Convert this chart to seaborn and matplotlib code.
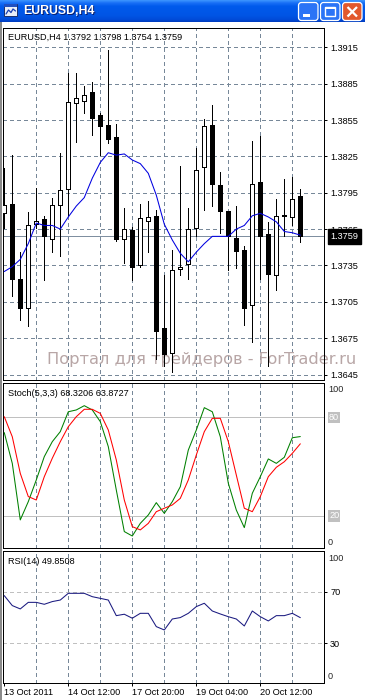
import numpy as np
import pandas as pd
import matplotlib
matplotlib.use("Agg")
import matplotlib.pyplot as plt
import seaborn as sns
from matplotlib.patches import FancyBboxPatch, Rectangle
from matplotlib.transforms import blended_transform_factory

# ---------------- data ----------------
open_ = [1.3778, 1.3786, 1.3724, 1.3700, 1.3769, 1.3773, 1.3757, 1.3785, 1.3798, 1.3869,
         1.3871, 1.3878, 1.3859, 1.3851, 1.3841, 1.3757, 1.3764, 1.3735, 1.3772, 1.3776,
         1.3683, 1.3663, 1.3732, 1.3736, 1.3766, 1.3816, 1.3851, 1.3801, 1.3780, 1.3758,
         1.3748, 1.3702, 1.3804, 1.3761, 1.3727, 1.3777, 1.3775, 1.3792]
high = [1.3815, 1.3826, 1.3746, 1.3779, 1.3799, 1.3776, 1.3791, 1.3828, 1.3894, 1.3894,
        1.3883, 1.3886, 1.3861, 1.3913, 1.3852, 1.3782, 1.3767, 1.3786, 1.3788, 1.3781,
        1.3727, 1.3748, 1.3817, 1.3782, 1.3832, 1.3856, 1.3867, 1.3812, 1.3780, 1.3784,
        1.3751, 1.3838, 1.3842, 1.3771, 1.3790, 1.3806, 1.3808, 1.3798]
low = [1.3766, 1.3710, 1.3690, 1.3685, 1.3766, 1.3723, 1.3746, 1.3743, 1.3776, 1.3837,
       1.3861, 1.3843, 1.3826, 1.3836, 1.3755, 1.3737, 1.3723, 1.3734, 1.3746, 1.3658,
       1.3652, 1.3647, 1.3727, 1.3724, 1.3759, 1.3781, 1.3784, 1.3762, 1.3731, 1.3733,
       1.3686, 1.3672, 1.3724, 1.3652, 1.3715, 1.3759, 1.3768, 1.3754]
close = [1.3785, 1.3724, 1.3700, 1.3768, 1.3772, 1.3759, 1.3785, 1.3797, 1.3870, 1.3873,
         1.3876, 1.3857, 1.3850, 1.3839, 1.3757, 1.3765, 1.3734, 1.3774, 1.3775, 1.3681,
         1.3662, 1.3731, 1.3734, 1.3765, 1.3814, 1.3850, 1.3802, 1.3780, 1.3759, 1.3747,
         1.3700, 1.3802, 1.3759, 1.3728, 1.3776, 1.3776, 1.3790, 1.3759]
ma = [1.3730, 1.3734, 1.3740, 1.3753, 1.3770, 1.3768, 1.3768, 1.3765, 1.3775, 1.3784,
      1.3791, 1.3807, 1.3820, 1.3828, 1.3826, 1.3827, 1.3822, 1.3819, 1.3811, 1.3793,
      1.3769, 1.3756, 1.3745, 1.3738, 1.3746, 1.3753, 1.3759, 1.3759, 1.3759, 1.3765,
      1.3768, 1.3776, 1.3778, 1.3775, 1.3771, 1.3763, 1.3762, 1.3760]
stoch_main = [70.7, 52.0, 17.6, 28.7, 41.9, 56.1, 65.2, 71.3, 83.4, 84.5,
              87.1, 84.5, 77.4, 62.2, 35.8, 10.5, 7.8, 15.5, 20.6, 28.1,
              21.6, 28.7, 37.8, 60.1, 72.3, 85.9, 83.4, 68.2, 39.9, 23.6,
              12.9, 33.8, 43.9, 54.7, 52.0, 55.7, 67.6, 68.3]
stoch_signal = [80.4, 68.2, 45.9, 31.8, 29.7, 43.9, 55.1, 65.2, 74.3, 80.4,
                84.9, 84.9, 82.4, 72.3, 54.1, 29.7, 13.5, 11.5, 15.5, 22.6,
                24.7, 26.7, 30.7, 41.9, 57.1, 71.3, 79.4, 79.4, 65.2, 44.9,
                24.7, 22.6, 31.8, 43.9, 49.6, 53.0, 58.1, 63.9]
rsi = [66.9, 59.2, 56.6, 61.7, 61.7, 60.2, 62.3, 63.5, 68.7, 68.7,
       68.7, 66.1, 64.8, 63.5, 51.4, 52.5, 49.4, 53.2, 53.2, 42.9,
       40.3, 48.8, 49.9, 53.2, 58.4, 61.0, 55.0, 52.7, 50.6, 48.8,
       43.4, 55.0, 50.6, 47.3, 51.4, 51.4, 53.2, 49.85]
date_ticks = [0, 8, 16, 24, 32]
date_labels = ["13 Oct 2011", "14 Oct 12:00", "17 Oct 20:00", "19 Oct 04:00", "20 Oct 12:00"]
grid_x = [4, 8, 12, 16, 20, 24, 28, 32, 36]
price_ticks = [1.3915, 1.3885, 1.3855, 1.3825, 1.3795, 1.3765, 1.3735, 1.3705, 1.3675, 1.3645]
stoch_levels = [80, 20]
rsi_levels = [70, 30]
symbol = "EURUSD,H4"
watermark = "Портал для трейдеров - ForTrader.ru"

# ---------------- style ----------------
sns.set_style("white")
plt.rcParams['font.family'] = ['Liberation Sans', 'DejaVu Sans']
FS = 6.6
GRID = '#778899'
LW = 0.72

W, H = 365, 700
fig = plt.figure(figsize=(W / 100, H / 100), dpi=100)
fig.patch.set_facecolor('white')


def rect(x0, y0, x1, y1):
    return [x0 / W, 1 - y1 / H, (x1 - x0) / W, (y1 - y0) / H]


ax_main = fig.add_axes(rect(3, 28, 324, 380))
ax_st = fig.add_axes(rect(3, 383, 324, 548))
ax_rsi = fig.add_axes(rect(3, 551, 324, 683))

n = len(close)
idx = np.arange(n)
df = pd.DataFrame(dict(idx=idx, open=open_, high=high, low=low, close=close, ma=ma,
                       k=stoch_main, d=stoch_signal, rsi=rsi))
XL = (-0.16, 39.96)

for ax in (ax_main, ax_st, ax_rsi):
    ax.set_xlim(*XL)
    for s in ax.spines.values():
        s.set_color('black')
        s.set_linewidth(LW)
        s.set_visible(True)
    for gx in grid_x:
        ax.axvline(gx, color=GRID, lw=LW, ls=(0, (4, 3)), zorder=1, antialiased=False)
    ax.set_xlabel('')
    ax.set_ylabel('')

# ---------------- main chart ----------------
ax_main.set_ylim(1.36405, 1.39309)
for p in price_ticks:
    ax_main.axhline(p, color=GRID, lw=LW, ls=(0, (4, 3)), zorder=1, antialiased=False)
ax_main.axhline(close[-1], color='#7f8fa0', lw=LW, zorder=1.5, antialiased=False)

ax_main.text((47 - 3) / 321, (380 - 360) / 352, watermark, transform=ax_main.transAxes,
             fontsize=11.7, color='#b8a6a6', family=['DejaVu Sans'], va='center', ha='left',
             zorder=1.2, clip_on=False)

bull = df.close >= df.open
ax_main.vlines(df.idx, df.low, df.high, color='black', lw=LW, zorder=3, antialiased=False)
ax_main.bar(df.idx[bull], (df.close - df.open)[bull], bottom=df.open[bull], width=0.52,
            facecolor='white', edgecolor='black', linewidth=LW, zorder=4, antialiased=False)
ax_main.bar(df.idx[~bull], (df.open - df.close)[~bull], bottom=df.close[~bull], width=0.52,
            facecolor='black', edgecolor='black', linewidth=LW, zorder=4, antialiased=False)
sns.lineplot(data=df, x='idx', y='ma', ax=ax_main, color='#0000e0', linewidth=0.75,
             legend=False, zorder=5)
ax_main.set_xlabel(''); ax_main.set_ylabel('')
ax_main.set_xticks([])
ax_main.set_yticks(price_ticks)
ax_main.set_yticklabels([f"{p:.4f}" for p in price_ticks])
ax_main.tick_params(axis='y', left=False, right=True, labelleft=False, labelright=True,
                    direction='out', length=2.2, width=LW, pad=2.2, labelsize=FS, colors='black')
tb = blended_transform_factory(ax_main.transAxes, ax_main.transData)
ax_main.text(1 + 6.5 / 321, close[-1], f"{close[-1]:.4f}", transform=tb, color='white',
             fontsize=FS, va='center', ha='left', zorder=10, clip_on=False,
             bbox=dict(boxstyle='square,pad=0.3', fc='black', ec='black'))

# ---------------- stochastic ----------------
ax_st.set_ylim(0.5, 100.9)
for lv in stoch_levels:
    ax_st.axhline(lv, color='#c0c0c0', lw=LW, zorder=1.5, antialiased=False)
sns.lineplot(data=df, x='idx', y='d', ax=ax_st, color='#ff0000', linewidth=0.75,
             legend=False, zorder=4)
sns.lineplot(data=df, x='idx', y='k', ax=ax_st, color='#008000', linewidth=0.75,
             legend=False, zorder=3)
ax_st.set_xlabel(''); ax_st.set_ylabel('')
ax_st.set_xticks([]); ax_st.set_yticks([])
ts = blended_transform_factory(ax_st.transAxes, ax_st.transData)
ax_st.text(1 + 4 / 321, 0.958, "100", transform=ax_st.transAxes, fontsize=FS, va='center',
           ha='left', clip_on=False)
ax_st.text(1 + 4 / 321, 0.036, "0", transform=ax_st.transAxes, fontsize=FS, va='center',
           ha='left', clip_on=False)
for lv in stoch_levels:
    ax_st.text(1 + 5 / 321, lv, str(lv), transform=ts, fontsize=FS, va='center', ha='left',
               color='white', clip_on=False,
               bbox=dict(boxstyle='square,pad=0.12', fc='#c0c0c0', ec='none'))

# ---------------- RSI ----------------
ax_rsi.set_ylim(-0.8, 101.5)
for lv in rsi_levels:
    ax_rsi.axhline(lv, color='#c0c0c0', lw=LW, ls=(0, (4, 3)), zorder=1.5, antialiased=False)
sns.lineplot(data=df, x='idx', y='rsi', ax=ax_rsi, color='#1a1a80', linewidth=0.75,
             legend=False, zorder=3)
ax_rsi.set_xlabel(''); ax_rsi.set_ylabel('')
ax_rsi.set_yticks(rsi_levels)
ax_rsi.set_yticklabels([str(v) for v in rsi_levels])
ax_rsi.tick_params(axis='y', left=False, right=True, labelleft=False, labelright=True,
                   direction='out', length=2.2, width=LW, pad=2.2, labelsize=FS, colors='black')
ax_rsi.text(1 + 4 / 321, 0.94, "100", transform=ax_rsi.transAxes, fontsize=FS, va='center',
            ha='left', clip_on=False)
ax_rsi.text(1 + 4 / 321, 0.053, "0", transform=ax_rsi.transAxes, fontsize=FS, va='center',
            ha='left', clip_on=False)
ax_rsi.set_xticks(date_ticks)
ax_rsi.set_xticklabels(date_labels, ha='left')
ax_rsi.tick_params(axis='x', bottom=True, direction='out', length=2.5, width=LW, pad=1.2,
                   labelsize=FS, colors='black')

# ---------------- window decorations ----------------
deco = fig.add_axes([0, 0, 1, 1], zorder=20)
deco.set_xlim(0, W)
deco.set_ylim(H, 0)
deco.axis('off')
deco.patch.set_alpha(0)

stops = [(0.0, (0x3d, 0x95, 0xff)), (0.12, (0x1a, 0x70, 0xf6)), (0.28, (0x00, 0x5a, 0xec)),
         (0.7, (0x00, 0x55, 0xe5)), (0.9, (0x00, 0x4b, 0xd8)), (1.0, (0x00, 0x3c, 0xc0))]
rows = 44
t = np.linspace(0, 1, rows)
grad = np.zeros((rows, 1, 3))
for c in range(3):
    grad[:, 0, c] = np.interp(t, [s[0] for s in stops], [s[1][c] / 255 for s in stops])
deco.imshow(grad, extent=(0, W, 22, 0), aspect='auto', interpolation='bilinear', zorder=1)
deco.set_xlim(0, W)
deco.set_ylim(H, 0)

deco.add_patch(Rectangle((0, 22), 1.6, H - 22, facecolor='#8a8a8a', edgecolor='none', zorder=2))

# app icon
deco.add_patch(Rectangle((4, 4), 13, 12, facecolor='#e8eef8', edgecolor='#1c2f6a', lw=0.7, zorder=3))
deco.add_patch(Rectangle((4, 4), 13, 3, facecolor='#2050c0', edgecolor='none', zorder=3))
deco.plot([6, 8.5, 11, 13, 15.5], [14, 10, 12.5, 9, 11], color='#1a3fb0', lw=0.9, zorder=4)

# title text
deco.text(24, 12, symbol, color='#0a1e6e', fontsize=8.8, fontweight='bold', va='center',
          ha='left', zorder=3)
deco.text(23, 11, symbol, color='white', fontsize=8.8, fontweight='bold', va='center',
          ha='left', zorder=4)

# buttons
for bx, fc in [(298.5, '#2b74f6'), (320.5, '#2b74f6'), (342.5, '#e2582c')]:
    deco.add_patch(FancyBboxPatch((bx, 2.5), 19.5, 18, boxstyle='round,pad=0,rounding_size=3',
                                  facecolor=fc, edgecolor='white', lw=0.9, zorder=3))
deco.add_patch(Rectangle((303, 14), 7, 2.6, facecolor='white', edgecolor='none', zorder=4))
deco.add_patch(Rectangle((325, 6.5), 10, 9.5, facecolor='none', edgecolor='white', lw=1.0, zorder=4))
deco.add_patch(Rectangle((325, 6.5), 10, 2, facecolor='white', edgecolor='none', zorder=4))
deco.plot([347.5, 357], [7, 16.5], color='white', lw=1.6, zorder=4, solid_capstyle='butt')
deco.plot([347.5, 357], [16.5, 7], color='white', lw=1.6, zorder=4, solid_capstyle='butt')

# indicator captions
deco.text(8, 37, f"{symbol} {open_[-1]:.4f} {high[-1]:.4f} {low[-1]:.4f} {close[-1]:.4f}",
          fontsize=FS, va='center', ha='left', color='black', zorder=5)
deco.text(8, 394, f"Stoch(5,3,3) {68.3206:.4f} {63.8727:.4f}", fontsize=FS, va='center',
          ha='left', color='black', zorder=5)
deco.text(8, 561, f"RSI(14) {49.8508:.4f}", fontsize=FS, va='center', ha='left',
          color='black', zorder=5)

fig.savefig("out.png", dpi=100, facecolor='white')
